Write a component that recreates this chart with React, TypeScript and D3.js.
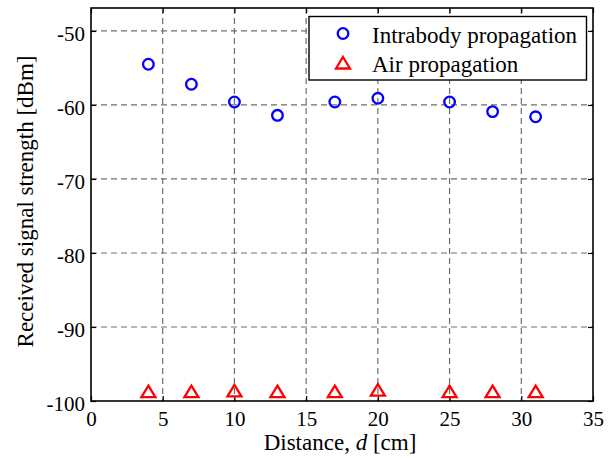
import React, { useRef, useEffect } from "react"
import * as d3 from "d3"

const distances = [4, 7, 10, 13, 17, 20, 25, 28, 31]
const intrabody = [-54.5, -57.2, -59.6, -61.4, -59.6, -59.1, -59.6, -60.9, -61.6]
const air = [-98.8, -98.8, -98.7, -98.8, -98.8, -98.6, -98.8, -98.8, -98.8]
const xTicks = [0, 5, 10, 15, 20, 25, 30, 35]
const yTicks = [-100, -90, -80, -70, -60, -50]
const legendLabels = ["Intrabody propagation", "Air propagation"]

const FONT = "Liberation Serif, Times New Roman, DejaVu Serif, serif"

// matlab-like upward triangle marker (a bit flatter than equilateral)
const triPath = () => {
    const p = d3.path()
    p.moveTo(0, -6.5)
    p.lineTo(7, 5)
    p.lineTo(-7, 5)
    p.closePath()
    return p.toString()
}

const App = () => {
    const element = useRef<SVGSVGElement>(null)

    useEffect(() => {
        const svg = d3.select(element.current)
        svg.selectAll("*").remove()

        const left = 91, right = 593, top = 8, bottom = 401

        const x = d3.scaleLinear().domain([0, 35]).range([left, right])
        const y = d3.scaleLinear().domain([-100, -46.9]).range([bottom, top])

        svg.append("rect")
            .attr("width", 616).attr("height", 458).attr("fill", "white")

        // grid
        const grid = svg.append("g")
            .attr("stroke", "#6e6e6e")
            .attr("stroke-width", 1.2)
            .attr("stroke-dasharray", "6,4")
        grid.selectAll("line.gx")
            .data(xTicks.filter(d => d > 0 && d < 35))
            .enter().append("line")
                .attr("x1", d => x(d)).attr("x2", d => x(d))
                .attr("y1", top).attr("y2", bottom)
        grid.selectAll("line.gy")
            .data(yTicks.filter(d => d > -100))
            .enter().append("line")
                .attr("y1", d => y(d)).attr("y2", d => y(d))
                .attr("x1", left).attr("x2", right)

        // axes
        const tickLen = 5
        const fmt = (d: any) => String(d)
        svg.append("g")
            .attr("transform", "translate(0," + bottom + ")")
            .call(d3.axisBottom(x).tickValues(xTicks).tickSize(-tickLen).tickPadding(10).tickFormat(fmt))
            .call(g => g.select(".domain").remove())
        svg.append("g")
            .attr("transform", "translate(0," + top + ")")
            .call(d3.axisTop(x).tickValues(xTicks).tickSize(-tickLen).tickFormat(() => ""))
            .call(g => g.select(".domain").remove())
        svg.append("g")
            .attr("class", "yaxis")
            .attr("transform", "translate(" + left + ",0)")
            .call(d3.axisLeft(y).tickValues(yTicks).tickSize(-tickLen).tickPadding(6).tickFormat(fmt))
            .call(g => g.select(".domain").remove())
        svg.append("g")
            .attr("transform", "translate(" + right + ",0)")
            .call(d3.axisRight(y).tickValues(yTicks).tickSize(-tickLen).tickFormat(() => ""))
            .call(g => g.select(".domain").remove())

        svg.selectAll("g").attr("font-family", FONT).attr("font-size", 21)
        svg.selectAll(".tick line")
            .attr("stroke", "black")
            .attr("stroke-width", 1.2)
        svg.selectAll(".tick text")
            .attr("fill", "black")
        svg.selectAll(".yaxis .tick text").attr("dy", "0.45em")

        svg.append("rect")
            .attr("x", left).attr("y", top)
            .attr("width", right - left).attr("height", bottom - top)
            .attr("fill", "none").attr("stroke", "black").attr("stroke-width", 1.6)

        // markers
        svg.append("g").selectAll("circle")
            .data(distances)
            .enter().append("circle")
                .attr("cx", d => x(d))
                .attr("cy", (d, i) => y(intrabody[i]))
                .attr("r", 5.3)
                .attr("fill", "none").attr("stroke", "#0000ff").attr("stroke-width", 2.3)
        svg.append("g").selectAll("path")
            .data(distances)
            .enter().append("path")
                .attr("d", triPath())
                .attr("transform", (d, i) => "translate(" + x(d) + "," + y(air[i]) + ")")
                .attr("fill", "none").attr("stroke", "#ff0000").attr("stroke-width", 2.3)
                .attr("stroke-linejoin", "miter")

        // legend
        const lg = svg.append("g")
        lg.append("rect")
            .attr("x", 309).attr("y", 16.5).attr("width", 277.5).attr("height", 63.5)
            .attr("fill", "white").attr("stroke", "black").attr("stroke-width", 1.4)
        lg.append("circle")
            .attr("cx", 343).attr("cy", 33.5).attr("r", 5.3)
            .attr("fill", "none").attr("stroke", "#0000ff").attr("stroke-width", 2.3)
        lg.append("path")
            .attr("d", triPath())
            .attr("transform", "translate(343,63.5)")
            .attr("fill", "none").attr("stroke", "#ff0000").attr("stroke-width", 2.3)
        lg.selectAll("text")
            .data(legendLabels)
            .enter().append("text")
                .attr("x", 372)
                .attr("y", (d, i) => 42.5 + i * 29.5)
                .attr("font-family", FONT)
                .attr("font-size", 23)
                .text(d => d)

        // axis labels
        const xl = svg.append("text")
            .attr("x", 340).attr("y", 450)
            .attr("text-anchor", "middle")
            .attr("font-family", FONT)
            .attr("font-size", 23)
        xl.append("tspan").text("Distance, ")
        xl.append("tspan").attr("font-style", "italic").text("d")
        xl.append("tspan").text(" [cm]")

        svg.append("text")
            .attr("transform", "translate(33,201.5) rotate(-90)")
            .attr("text-anchor", "middle")
            .attr("font-family", FONT)
            .attr("font-size", 23)
            .text("Received signal strength [dBm]")
    }, [])

    return (
        <svg ref={element} width={616} height={458}
            style={{ position: "absolute", left: 0, top: 0, display: "block" }}></svg>
    )
}

export default App
